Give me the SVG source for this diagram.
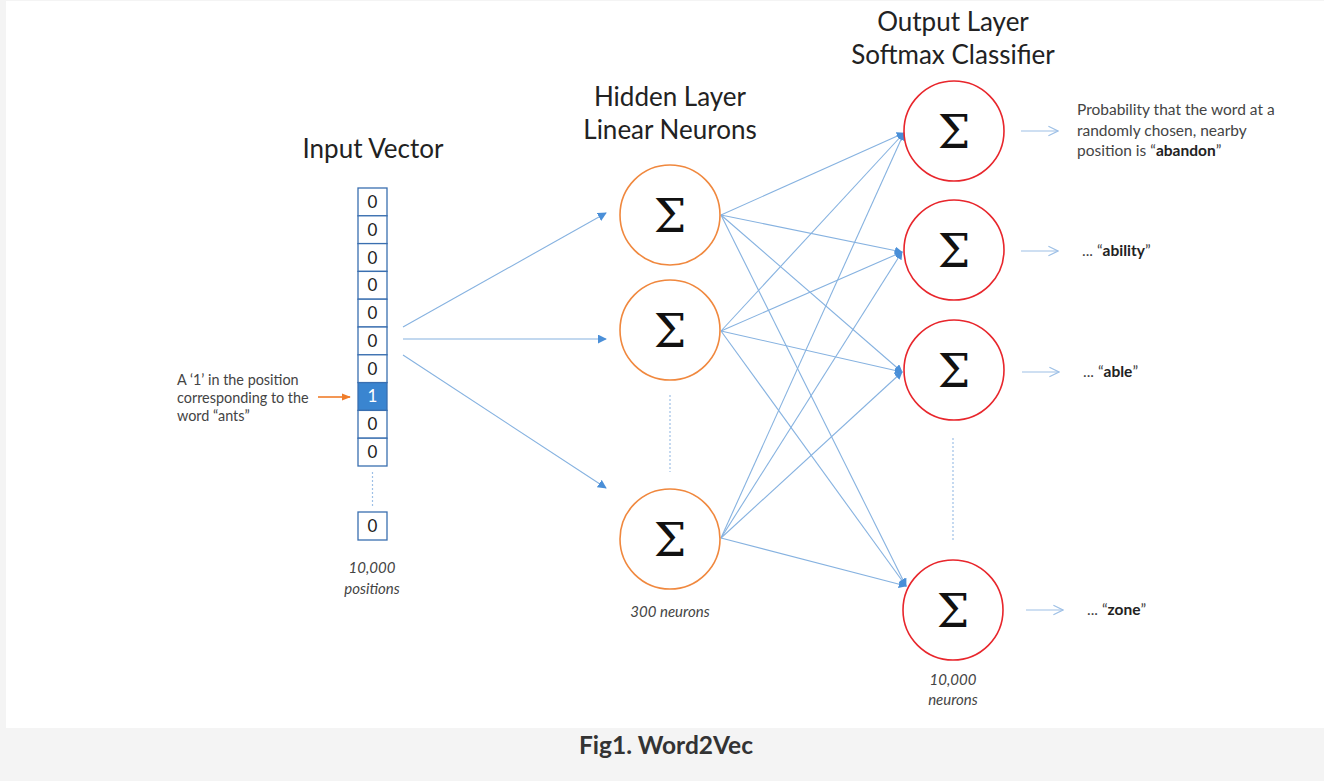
<svg xmlns="http://www.w3.org/2000/svg" width="1324" height="781" viewBox="0 0 1324 781">
<defs>
<style>
.title{font-family:"Lato","Open Sans",sans-serif;font-size:26px;fill:#222;text-anchor:middle}
.sig{font-family:"DejaVu Serif","Liberation Serif",serif;font-size:46px;fill:#111;text-anchor:middle}
.cell{fill:#fff;stroke:#3a6fb0;stroke-width:1.3}
.num{font-family:"Lato","Open Sans",sans-serif;font-size:17px;fill:#222;text-anchor:middle}
.note{font-family:"Lato","Open Sans",sans-serif;font-size:14.4px;fill:#444}
.rnote{font-family:"Lato","Open Sans",sans-serif;font-size:15.5px;fill:#444}
.ital{font-family:"Lato","Open Sans",sans-serif;font-size:15px;font-style:italic;fill:#444;text-anchor:middle}
.hid{fill:#fff;stroke:#f0883e;stroke-width:1.6}
.out{fill:#fff;stroke:#e8262c;stroke-width:1.6}
.conn{stroke:#86b2e0;stroke-width:1.1;fill:none}
.dot{stroke:#9ec0e6;stroke-width:1.2;stroke-dasharray:2,2;fill:none}
.res{stroke:#9ec0e6;stroke-width:1.1;fill:none}
</style>
<marker id="ah" viewBox="0 0 10 10" refX="9" refY="5" markerWidth="8" markerHeight="8" orient="auto" markerUnits="userSpaceOnUse">
<path d="M0,0 L10,5 L0,10 z" fill="#4a8fd8"/>
</marker>
<marker id="ah2" viewBox="0 0 10 10" refX="9" refY="5" markerWidth="9" markerHeight="9" orient="auto" markerUnits="userSpaceOnUse">
<path d="M0,0 L10,5 L0,10 z" fill="#4a8fd8"/>
</marker>
<marker id="oa" viewBox="0 0 10 10" refX="9" refY="5" markerWidth="12" markerHeight="12" orient="auto" markerUnits="userSpaceOnUse">
<path d="M1,1 L9,5 L1,9" fill="none" stroke="#9ec0e6" stroke-width="1"/>
</marker>
<marker id="org" viewBox="0 0 10 10" refX="9" refY="5" markerWidth="9" markerHeight="9" orient="auto" markerUnits="userSpaceOnUse">
<path d="M0,1 L10,5 L0,9 z" fill="#f07d2a"/>
</marker>
</defs>
<rect x="0" y="0" width="1324" height="781" fill="#f4f4f4"/>
<rect x="6" y="1" width="1318" height="727" fill="#fff"/>
<text x="666" y="754" font-family="Lato,'Open Sans',sans-serif" font-size="24.5" font-weight="bold" fill="#333" text-anchor="middle">Fig1. Word2Vec</text>

<g id="titles">
<text class="title" x="373" y="158">Input Vector</text>
<text class="title" x="670" y="106">Hidden Layer</text>
<text class="title" x="670" y="139">Linear Neurons</text>
<text class="title" x="953" y="31">Output Layer</text>
<text class="title" x="953" y="64">Softmax Classifier</text>
</g>

<g id="input-vector">
<rect class="cell" x="358" y="188" width="29" height="27.8"/>
<rect class="cell" x="358" y="215.8" width="29" height="27.8"/>
<rect class="cell" x="358" y="243.6" width="29" height="27.8"/>
<rect class="cell" x="358" y="271.4" width="29" height="27.8"/>
<rect class="cell" x="358" y="299.2" width="29" height="27.8"/>
<rect class="cell" x="358" y="327" width="29" height="27.8"/>
<rect class="cell" x="358" y="354.8" width="29" height="27.8"/>
<rect x="358" y="382.6" width="29" height="27.8" fill="#3a85d0" stroke="#3a6fb0" stroke-width="1.3"/>
<rect class="cell" x="358" y="410.4" width="29" height="27.8"/>
<rect class="cell" x="358" y="438.2" width="29" height="27.8"/>
<text class="num" x="372.5" y="208">0</text>
<text class="num" x="372.5" y="236">0</text>
<text class="num" x="372.5" y="264">0</text>
<text class="num" x="372.5" y="291">0</text>
<text class="num" x="372.5" y="319">0</text>
<text class="num" x="372.5" y="347">0</text>
<text class="num" x="372.5" y="375">0</text>
<text class="num" x="372.5" y="402" style="fill:#fff">1</text>
<text class="num" x="372.5" y="430">0</text>
<text class="num" x="372.5" y="458">0</text>
<line class="dot" x1="372.5" y1="472" x2="372.5" y2="506"/>
<rect class="cell" x="358" y="512" width="29" height="28"/>
<text class="num" x="372.5" y="532">0</text>
<text class="ital" x="372" y="573">10,000</text>
<text class="ital" x="372" y="594">positions</text>
</g>

<g id="input-note">
<text class="note" x="177" y="385">A ‘1’ in the position</text>
<text class="note" x="177" y="403">corresponding to the</text>
<text class="note" x="177" y="421">word “ants”</text>
<line x1="318" y1="397" x2="350" y2="397" stroke="#f07d2a" stroke-width="1.6" marker-end="url(#org)"/>
</g>

<g id="connectors">
<line class="conn" x1="403" y1="327" x2="606" y2="213" marker-end="url(#ah2)"/>
<line class="conn" x1="403" y1="339" x2="606" y2="339" marker-end="url(#ah2)"/>
<line class="conn" x1="403" y1="355" x2="606" y2="488" marker-end="url(#ah2)"/>

<line class="conn" x1="721" y1="215" x2="904" y2="133" marker-end="url(#ah)"/>
<line class="conn" x1="721" y1="215" x2="902" y2="252" marker-end="url(#ah)"/>
<line class="conn" x1="721" y1="215" x2="902" y2="372" marker-end="url(#ah)"/>
<line class="conn" x1="721" y1="215" x2="906" y2="586" marker-end="url(#ah)"/>

<line class="conn" x1="721" y1="331" x2="904" y2="133" marker-end="url(#ah)"/>
<line class="conn" x1="721" y1="331" x2="902" y2="252" marker-end="url(#ah)"/>
<line class="conn" x1="721" y1="331" x2="902" y2="372" marker-end="url(#ah)"/>
<line class="conn" x1="721" y1="331" x2="906" y2="586" marker-end="url(#ah)"/>

<line class="conn" x1="721" y1="538" x2="904" y2="133" marker-end="url(#ah)"/>
<line class="conn" x1="721" y1="538" x2="902" y2="252" marker-end="url(#ah)"/>
<line class="conn" x1="721" y1="538" x2="902" y2="372" marker-end="url(#ah)"/>
<line class="conn" x1="721" y1="538" x2="906" y2="586" marker-end="url(#ah)"/>

<line class="dot" x1="670" y1="395" x2="670" y2="472"/>
<line class="dot" x1="953" y1="438" x2="953" y2="540"/>

<line class="res" x1="1021" y1="131" x2="1058" y2="131" marker-end="url(#oa)"/>
<line class="res" x1="1021" y1="251" x2="1058" y2="251" marker-end="url(#oa)"/>
<line class="res" x1="1022" y1="372" x2="1059" y2="372" marker-end="url(#oa)"/>
<line class="res" x1="1026" y1="610" x2="1063" y2="610" marker-end="url(#oa)"/>
</g>

<g id="hidden-1"><circle class="hid" cx="670" cy="215" r="50"/><text class="sig" x="670" y="232">Σ</text></g>
<g id="hidden-2"><circle class="hid" cx="670" cy="330" r="50"/><text class="sig" x="670" y="347">Σ</text></g>
<g id="hidden-3"><circle class="hid" cx="670" cy="539" r="50"/><text class="sig" x="670" y="556">Σ</text></g>
<text class="ital" x="670" y="617">300 neurons</text>

<g id="output-1"><circle class="out" cx="954" cy="131" r="50"/><text class="sig" x="954" y="148">Σ</text></g>
<g id="output-2"><circle class="out" cx="954" cy="250" r="50"/><text class="sig" x="954" y="267">Σ</text></g>
<g id="output-3"><circle class="out" cx="954" cy="370" r="50"/><text class="sig" x="954" y="387">Σ</text></g>
<g id="output-4"><circle class="out" cx="953" cy="610" r="50"/><text class="sig" x="953" y="627">Σ</text></g>
<text class="ital" x="953" y="685">10,000</text>
<text class="ital" x="953" y="705">neurons</text>

<g id="output-labels">
<text class="rnote" x="1077" y="115">Probability that the word at a</text>
<text class="rnote" x="1077" y="136">randomly chosen, nearby</text>
<text class="rnote" x="1077" y="156">position is “<tspan font-weight="bold" fill="#222">abandon</tspan>”</text>
<text class="rnote" x="1082" y="256">... “<tspan font-weight="bold" fill="#222">ability</tspan>”</text>
<text class="rnote" x="1083" y="377">... “<tspan font-weight="bold" fill="#222">able</tspan>”</text>
<text class="rnote" x="1087" y="615">... “<tspan font-weight="bold" fill="#222">zone</tspan>”</text>
</g>
</svg>
